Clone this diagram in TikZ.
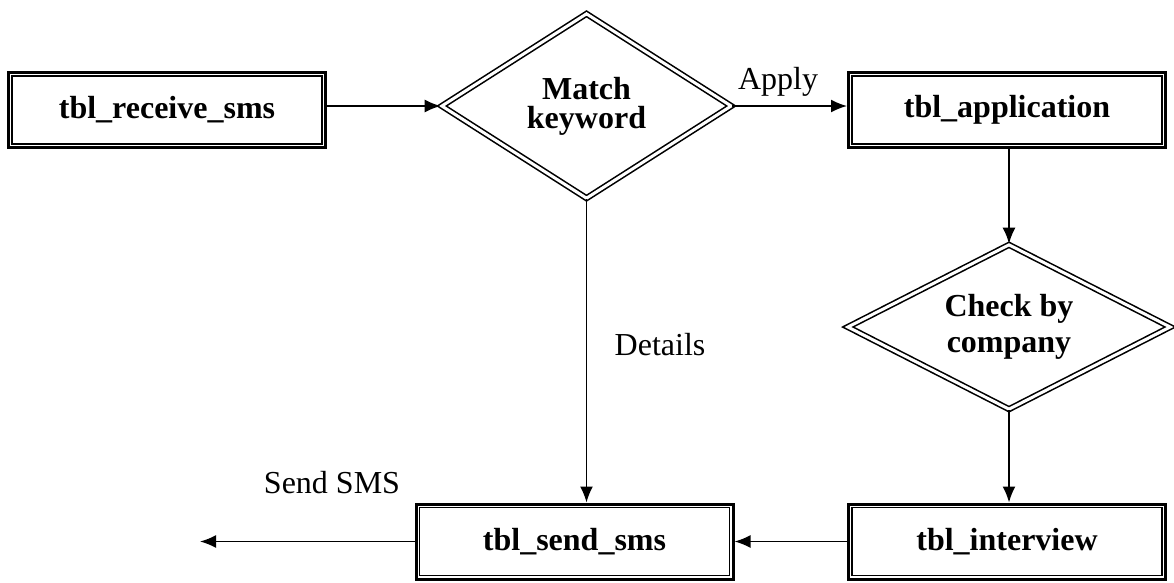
\documentclass[tikz,border=0pt]{standalone}
\usepackage{fontspec}
\setmainfont{Liberation Serif}
\usetikzlibrary{shapes.geometric,arrows.meta}
\begin{document}
\begin{tikzpicture}[x=1pt,y=-1pt,
  tbl/.style={draw, line width=3pt, rectangle, inner sep=0pt, minimum width=317pt, minimum height=75pt, font=\fontsize{32}{32}\selectfont\bfseries},
  rel/.style={draw, diamond, double, double distance=3pt, line width=1.6pt, inner sep=0pt, align=center, font=\fontsize{32}{29}\selectfont\bfseries},
  lbl/.style={font=\fontsize{32}{32}\selectfont, inner sep=0pt},
  arr/.style={line width=1.7pt, -{Latex[length=16pt,width=13pt]}}
]
\useasboundingbox (0,0) rectangle (1174,582);
\node[tbl] (rec) at (167,110) {tbl\_receive\_sms};
\node[tbl] (app) at (1007,110) {tbl\_application};
\node[tbl] (send) at (574.5,541.5) {tbl\_send\_sms};
\node[tbl] (int) at (1007,541.5) {tbl\_interview};
\foreach \n in {rec,app,send,int}{
  \draw[line width=1.7pt] ([shift={(5,5)}]\n.north west) rectangle ([shift={(-5,-5)}]\n.south east);
}
\node[rel, aspect=1.56, minimum width=290pt, minimum height=185pt] (m) at (586.5,106) {Match\\keyword};
\node[rel, aspect=2, minimum width=323pt, minimum height=165pt, font=\fontsize{32}{36}\selectfont\bfseries] (chk) at (1009,327) {Check by\\company};
\coordinate (out) at (200,541.5);
\draw[arr] (rec.east |- m.west) -- (m.west);
\draw[arr] (m.east) -- (m.east -| app.west);
\draw[arr] (app.south -| chk.north) -- (chk.north);
\draw[arr] (chk.south) -- (chk.south |- int.north);
\draw[arr] (m.south) -- (m.south |- send.north);
\draw[arr] (int.west) -- (send.east);
\draw[arr] (send.west) -- (out);
\node[lbl] (apply) at (778,82) {Apply};
\node[lbl] (det) at (660,345) {Details};
\node[lbl] (ssms) at (332,483) {Send SMS};
\end{tikzpicture}
\end{document}
